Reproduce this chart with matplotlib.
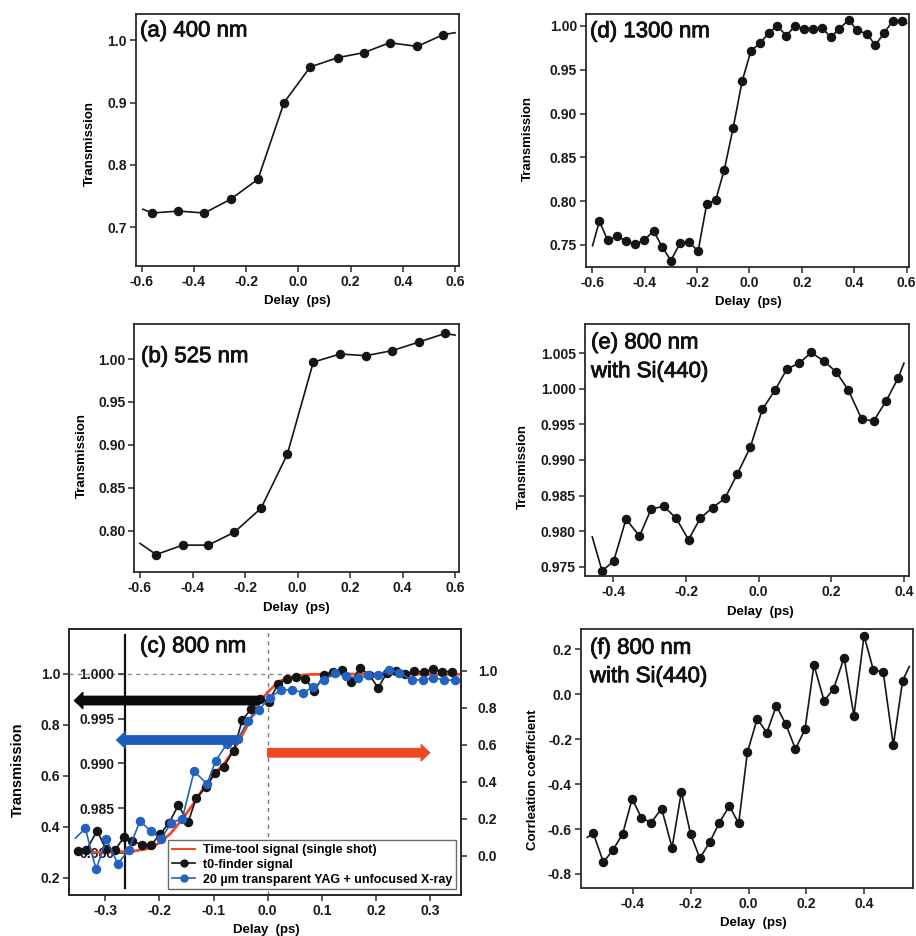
import matplotlib
matplotlib.use('Agg')
import matplotlib.pyplot as plt
import matplotlib.patheffects as pe
from matplotlib.lines import Line2D

W, H = 916, 936
plt.rcParams['font.family'] = ['Liberation Sans', 'DejaVu Sans']
plt.rcParams['font.weight'] = 'bold'
plt.rcParams['axes.labelweight'] = 'bold'
plt.rcParams['axes.linewidth'] = 1.3

# ---------------- data ----------------
a_delay = [-0.56, -0.46, -0.36, -0.26, -0.155, -0.055, 0.045, 0.15, 0.25, 0.35, 0.455, 0.555]
a_trans = [0.723, 0.726, 0.723, 0.745, 0.777, 0.900, 0.957, 0.972, 0.980, 0.996, 0.990, 1.009]
a_edge_delay = [-0.596, 0.60]
a_edge_trans = [0.729, 1.012]

b_delay = [-0.539, -0.437, -0.340, -0.241, -0.139, -0.039, 0.060, 0.162, 0.261, 0.361, 0.463, 0.562]
b_trans = [0.772, 0.783, 0.783, 0.798, 0.826, 0.889, 0.9965, 1.006, 1.004, 1.010, 1.020, 1.030]
b_edge_delay = [-0.60, 0.60]
b_edge_trans = [0.785, 1.028]

d_delay = [-0.573, -0.541, -0.504, -0.471, -0.437, -0.403, -0.366, -0.334, -0.300, -0.265,
           -0.232, -0.196, -0.163, -0.129, -0.096, -0.062, -0.028, 0.006, 0.040, 0.073,
           0.105, 0.141, 0.173, 0.208, 0.243, 0.277, 0.310, 0.343, 0.379, 0.411,
           0.449, 0.480, 0.514, 0.547, 0.583]
d_trans = [0.777, 0.755, 0.760, 0.754, 0.751, 0.755, 0.766, 0.748, 0.732, 0.752,
           0.753, 0.743, 0.797, 0.801, 0.836, 0.884, 0.937, 0.972, 0.980, 0.992,
           1.000, 0.989, 1.000, 0.997, 0.997, 0.998, 0.987, 0.997, 1.007, 0.995,
           0.991, 0.978, 0.992, 1.006, 1.006]
d_edge_delay = [-0.599, 0.60]
d_edge_trans = [0.749, 1.003]

e_delay = [-0.431, -0.399, -0.365, -0.328, -0.296, -0.261, -0.227, -0.193, -0.161, -0.127,
           -0.093, -0.059, -0.023, 0.010, 0.045, 0.078, 0.112, 0.145, 0.179, 0.213,
           0.247, 0.284, 0.317, 0.351, 0.384]
e_trans = [0.9744, 0.9758, 0.9817, 0.9793, 0.9831, 0.9835, 0.9818, 0.9788, 0.9818, 0.9833,
           0.9846, 0.9880, 0.9918, 0.9971, 0.9998, 1.0028, 1.0036, 1.0051, 1.0039, 1.0024,
           0.9998, 0.9957, 0.9955, 0.9983, 1.0015]
e_edge_delay = [-0.458, 0.400]
e_edge_trans = [0.9792, 1.0036]

f_delay = [-0.536, -0.501, -0.468, -0.435, -0.402, -0.370, -0.337, -0.300, -0.264, -0.232,
           -0.200, -0.168, -0.133, -0.101, -0.066, -0.034, -0.004, 0.030, 0.063, 0.096,
           0.129, 0.162, 0.195, 0.226, 0.261, 0.294, 0.330, 0.364, 0.399, 0.431,
           0.465, 0.500, 0.532]
f_corr = [-0.619, -0.748, -0.692, -0.623, -0.466, -0.549, -0.572, -0.509, -0.683, -0.435,
          -0.623, -0.730, -0.656, -0.572, -0.497, -0.575, -0.259, -0.109, -0.171, -0.052,
          -0.134, -0.244, -0.156, 0.130, -0.030, 0.025, 0.163, -0.095, 0.261, 0.108,
          0.100, -0.227, 0.060]
f_edge_delay = [-0.557, 0.555]
f_edge_corr = [-0.637, 0.123]

c_t0_delay = [-0.350, -0.335, -0.315, -0.299, -0.282, -0.265, -0.250, -0.232, -0.216, -0.199,
              -0.182, -0.165, -0.147, -0.132, -0.114, -0.097, -0.081, -0.063, -0.047, -0.031,
              -0.014, 0.002, 0.019, 0.035, 0.053, 0.069, 0.086, 0.104, 0.121, 0.137,
              0.154, 0.170, 0.187, 0.204, 0.220, 0.237, 0.254, 0.271, 0.288, 0.305,
              0.322, 0.340]
c_t0_signal = [0.029, 0.032, 0.137, 0.036, 0.032, 0.104, 0.083, 0.058, 0.058, 0.116,
               0.180, 0.274, 0.182, 0.313, 0.372, 0.448, 0.482, 0.569, 0.734, 0.792,
               0.847, 0.833, 0.928, 0.954, 0.968, 0.957, 0.890, 0.977, 0.995, 1.006,
               0.939, 1.013, 0.979, 0.908, 0.988, 0.997, 0.981, 0.998, 0.991, 1.009,
               0.995, 0.995]

c_yag_delay = [-0.355, -0.337, -0.317, -0.298, -0.277, -0.257, -0.236, -0.216, -0.197, -0.178,
               -0.158, -0.136, -0.112, -0.096, -0.076, -0.055, -0.037, -0.016, 0.004, 0.024,
               0.044, 0.065, 0.084, 0.104, 0.125, 0.145, 0.166, 0.185, 0.204, 0.224,
               0.243, 0.266, 0.286, 0.306, 0.326, 0.345]
c_yag_signal = [0.096, 0.149, -0.072, 0.090, -0.041, 0.030, 0.190, 0.133, 0.093, 0.180,
                0.200, 0.457, 0.389, 0.515, 0.602, 0.632, 0.726, 0.790, 0.855, 0.896,
                0.897, 0.882, 0.911, 0.950, 0.986, 0.971, 0.959, 0.975, 0.977, 1.002,
                0.990, 0.948, 0.952, 0.962, 0.950, 0.948]

c_tt_delay = [-0.355, -0.30, -0.25, -0.22, -0.20, -0.18, -0.16, -0.14, -0.12, -0.10,
              -0.08, -0.06, -0.04, -0.02, 0.00, 0.02, 0.04, 0.06, 0.08, 0.15, 0.25, 0.355]
c_tt_signal = [0.02, 0.02, 0.025, 0.04, 0.07, 0.12, 0.19, 0.27, 0.36, 0.44,
               0.50, 0.585, 0.69, 0.81, 0.885, 0.94, 0.965, 0.975, 0.98, 0.982, 0.982, 0.98]

legend_labels = ['Time-tool signal (single shot)', 't0-finder signal',
                 '20 µm transparent YAG + unfocused X-ray']

BLACK = '#151515'
BLUE = '#2462c0'
RED = '#f04a26'
SPINE = '#2a2a2a'
TITLE_FX = [pe.withStroke(linewidth=0.6, foreground='#111111')]


def rect(l, t, r, b):
    return [l / W, 1 - b / H, (r - l) / W, (b - t) / H]


def fpt(x, y):
    return (x / W, 1 - y / H)


def title(x, y, s):
    fig.text(*fpt(x, y), s, fontsize=16, fontweight='normal', va='center', ha='left',
             color='#111111', path_effects=TITLE_FX)


def style(ax, right=False):
    for s in ax.spines.values():
        s.set_color(SPINE)
        s.set_linewidth(1.3)
    ax.tick_params(direction='out', length=4, width=1.1, color=SPINE, labelsize=10,
                   pad=2.5, top=False, right=right, labelcolor='#1a1a1a')


def set_labels(ax, xlab, ylab, xlab_px, ylab_px, ylabfs=9.5):
    ax.set_xlabel(xlab, fontsize=9.5, fontweight='bold')
    ax.set_ylabel(ylab, fontsize=ylabfs, fontweight='bold')
    ax.xaxis.set_label_coords(*fpt(*xlab_px), transform=fig.transFigure)
    ax.yaxis.set_label_coords(*fpt(*ylab_px), transform=fig.transFigure)
    ax.xaxis.label.set_va('center')
    ax.yaxis.label.set_va('center')


def simple_panel(r, xlim, ylim, xt, yt, yfmt, delay, vals, edge_d, edge_v, ylab,
                 xlab_px, ylab_px):
    ax = fig.add_axes(rect(*r))
    style(ax)
    lx = [edge_d[0]] + list(delay) + [edge_d[1]]
    ly = [edge_v[0]] + list(vals) + [edge_v[1]]
    ax.plot(lx, ly, '-', color=BLACK, lw=1.2)
    ax.plot(delay, vals, 'o', color=BLACK, ms=5.8, mec=BLACK)
    ax.set_xlim(*xlim)
    ax.set_ylim(*ylim)
    ax.set_xticks(xt, ['%.1f' % v for v in xt])
    ax.set_yticks(yt, [yfmt % v for v in yt])
    set_labels(ax, 'Delay  (ps)', ylab, xlab_px, ylab_px)
    return ax


fig = plt.figure(figsize=(W / 100, H / 100), dpi=100)

x6 = [-0.6, -0.4, -0.2, 0.0, 0.2, 0.4, 0.6]
x4 = [-0.4, -0.2, 0.0, 0.2, 0.4]

# (a)
simple_panel((136, 14, 459, 266), (-0.622, 0.615), (0.638, 1.042), x6,
             [0.7, 0.8, 0.9, 1.0], '%.1f', a_delay, a_trans, a_edge_delay, a_edge_trans,
             'Transmission', (297.5, 301), (90, 143))
title(140, 31, '(a) 400 nm')

# (b)
simple_panel((134.3, 324, 459, 571.7), (-0.6217, 0.615), (0.752, 1.041), x6,
             [0.80, 0.85, 0.90, 0.95, 1.00], '%.2f', b_delay, b_trans, b_edge_delay,
             b_edge_trans, 'Transmission', (296, 608.3), (81.7, 455))
title(141, 356.7, '(b) 525 nm')

# (d)
simple_panel((586, 14, 909.3, 266.7), (-0.624, 0.61), (0.725, 1.0137), x6,
             [0.75, 0.80, 0.85, 0.90, 0.95, 1.00], '%.2f', d_delay, d_trans, d_edge_delay,
             d_edge_trans, 'Transmission', (748.3, 301.7), (528.3, 138.3))
title(590, 31.7, '(d) 1300 nm')

# (e)
simple_panel((585, 324, 909.3, 576), (-0.478, 0.4147), (0.9737, 1.0091), x4,
             [0.975, 0.980, 0.985, 0.990, 0.995, 1.000, 1.005], '%.3f', e_delay, e_trans,
             e_edge_delay, e_edge_trans, 'Transmission', (760.5, 611.7), (523.3, 466.7))
title(591, 343, '(e) 800 nm')
title(591, 371.7, 'with Si(440)')

# (f)
simple_panel((581, 629.3, 913.3, 887.7), (-0.5785, 0.569), (-0.861, 0.289), x4,
             [-0.8, -0.6, -0.4, -0.2, 0.0, 0.2], '%.1f', f_delay, f_corr, f_edge_delay,
             f_edge_corr, 'Corrleation coefficient', (753.8, 923.3), (533.3, 780))
title(590, 648.3, '(f) 800 nm')
title(590, 676.7, 'with Si(440)')

# (c) main axes (outer transmission scale)
ax_c = fig.add_axes(rect(69.3, 629.3, 461, 895))
style(ax_c)
ax_c.set_xlim(-0.3665, 0.357)
ax_c.set_ylim(0.132, 1.1755)
xc = [-0.3, -0.2, -0.1, 0.0, 0.1, 0.2, 0.3]
ax_c.set_xticks(xc, ['%.1f' % v for v in xc])
yc = [0.2, 0.4, 0.6, 0.8, 1.0]
ax_c.set_yticks(yc, ['%.1f' % v for v in yc])
ax_c.axhline(1.0, color='#8a8a8a', lw=1.0, ls=(0, (3, 3)), zorder=1)
ax_c.axvline(0.0, color='#7a7a7a', lw=1.0, ls=(0, (3, 3)), zorder=1)
set_labels(ax_c, 'Delay  (ps)', 'Transmission', (266.7, 930), (18, 770), ylabfs=10.5)
ax_c.set_zorder(1)
fig.text(*fpt(140, 646.7), '(c) 800 nm', fontsize=16, fontweight='normal', va='center',
         ha='left', color='#111111', path_effects=TITLE_FX)

# inner scale
ax_in = fig.add_axes(rect(125, 635, 125.5, 888.3))
ax_in.patch.set_visible(False)
for k in ('top', 'right', 'bottom'):
    ax_in.spines[k].set_visible(False)
ax_in.spines['left'].set_color('#111111')
ax_in.spines['left'].set_linewidth(1.6)
ax_in.set_xticks([])
ax_in.set_ylim(0.97602, 1.00436)
yin = [0.980, 0.985, 0.990, 0.995, 1.000]
ax_in.set_yticks(yin, ['%.3f' % v for v in yin])
ax_in.tick_params(axis='y', direction='out', length=5, width=1.1, color=SPINE, labelsize=10,
                  pad=2.5, labelcolor='#1a1a1a')
ax_in.set_zorder(2)

# right scale with data
ax_r = ax_c.twinx()
ax_r.patch.set_visible(False)
ax_r.set_zorder(3)
for s in ax_r.spines.values():
    s.set_color(SPINE)
    s.set_linewidth(1.3)
ax_r.set_ylim(-0.2105, 1.2234)
yr = [0.0, 0.2, 0.4, 0.6, 0.8, 1.0]
ax_r.set_yticks(yr, ['%.1f' % v for v in yr])
ax_r.tick_params(axis='y', direction='out', length=4, width=1.1, color=SPINE, labelsize=10,
                 pad=8, labelcolor='#1a1a1a')

ax_r.plot(c_tt_delay, c_tt_signal, '-', color=RED, lw=2.0, zorder=2)
ax_r.plot(c_t0_delay, c_t0_signal, '-', color=BLACK, lw=1.2, zorder=3)
ax_r.plot(c_t0_delay, c_t0_signal, 'o', color=BLACK, ms=5.8, zorder=3)
ax_r.plot(c_yag_delay, c_yag_signal, '-', color=BLUE, lw=1.2, zorder=4)
ax_r.plot(c_yag_delay[1:], c_yag_signal[1:], 'o', color=BLUE, ms=5.8, zorder=4)

arrow_style = 'simple,head_length=0.55,head_width=1.05,tail_width=0.55'
ax_r.annotate('', xy=(-0.357, 0.839), xytext=(-0.015, 0.839),
              arrowprops=dict(arrowstyle=arrow_style, color='#0a0a0a', mutation_scale=11,
                              shrinkA=0, shrinkB=0), zorder=6)
ax_r.annotate('', xy=(-0.279, 0.626), xytext=(-0.055, 0.626),
              arrowprops=dict(arrowstyle=arrow_style, color='#1e5cbc', mutation_scale=11,
                              shrinkA=0, shrinkB=0), zorder=6)
ax_r.annotate('', xy=(0.299, 0.557), xytext=(0.0, 0.557),
              arrowprops=dict(arrowstyle=arrow_style, color='#ee4a22', mutation_scale=11,
                              shrinkA=0, shrinkB=0), zorder=6)

handles = [Line2D([], [], color=RED, lw=1.5),
           Line2D([], [], color=BLACK, lw=1.2, marker='o', ms=5),
           Line2D([], [], color=BLUE, lw=1.2, marker='o', ms=5)]
leg = ax_r.legend(handles, legend_labels, loc='lower right',
                  bbox_to_anchor=fpt(456, 889.3), bbox_transform=fig.transFigure,
                  borderaxespad=0, fontsize=9, fancybox=False, framealpha=1,
                  edgecolor='#6a6a6a', handlelength=1.9, handletextpad=0.6,
                  labelspacing=0.22, borderpad=0.3)
leg.get_frame().set_linewidth(1.0)
leg.set_zorder(10)

fig.savefig('out.png', dpi=100, facecolor='white')
